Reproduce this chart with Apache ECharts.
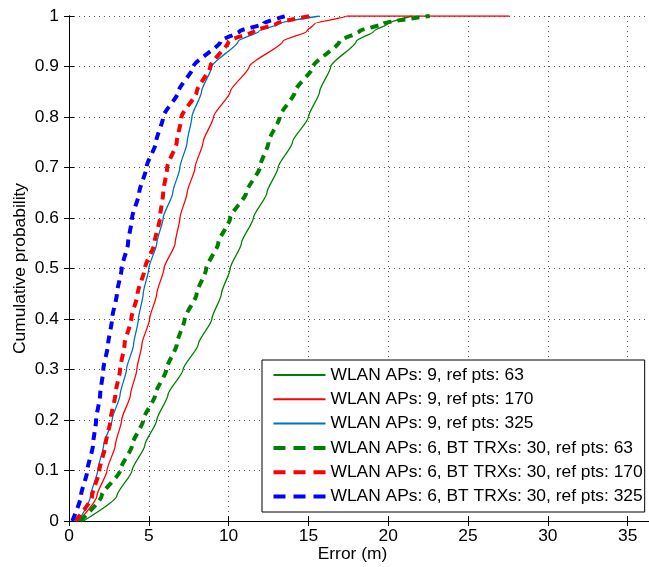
<!DOCTYPE html>
<html>
<head>
<meta charset="utf-8">
<script src="https://cdn.jsdelivr.net/npm/echarts@6/dist/echarts.min.js"></script>
<style>html,body{margin:0;padding:0;background:#fff;}#c{width:649px;height:567px;}</style>
</head>
<body>
<div id="c"></div>
<script>
// Cumulative probability levels (y values) shared by all curves
const probLevels = [0, 0.05, 0.1, 0.15, 0.2, 0.25, 0.3, 0.35, 0.4, 0.45, 0.5, 0.55, 0.6, 0.65, 0.7, 0.75, 0.8, 0.85, 0.9, 0.95, 0.97, 0.985, 1];

// Error (m) at each probability level
const wlan9ref63  = [0.9, 3.0, 3.95, 4.75, 5.5, 6.2, 7.15, 8.1, 8.95, 9.55, 10.1, 10.8, 11.55, 12.4, 13.1, 14.0, 15.0, 15.7, 16.4, 18.0, 19.1, 20.0, 21.5];
const wlan9ref170 = [0.6, 1.75, 2.38, 2.9, 3.3, 3.85, 4.25, 4.57, 5.05, 5.5, 5.95, 6.65, 6.95, 7.4, 7.9, 8.4, 9.05, 10.1, 11.3, 13.4, 14.9, 15.4, 17.4];
const wlan9ref170TailX = 27.6;
const wlan9ref325 = [0.6, 1.35, 1.8, 2.17, 2.7, 3.2, 3.6, 4.05, 4.35, 4.65, 5.0, 5.5, 5.9, 6.5, 6.95, 7.4, 7.7, 8.3, 8.95, 10.6, 11.9, 13.2, 15.7];
const bt30ref63   = [0.7, 2.05, 3.2, 3.95, 4.65, 5.4, 6.1, 6.75, 7.25, 8.0, 8.6, 9.35, 10.1, 11.1, 11.95, 12.5, 13.2, 14.15, 15.3, 16.95, 18.2, 19.7, 22.6];
const bt30ref170  = [0.4, 1.45, 1.9, 2.28, 2.6, 2.9, 3.2, 3.48, 3.9, 4.3, 4.75, 5.35, 5.7, 5.9, 6.15, 6.75, 7.05, 8.0, 8.85, 10.0, 11.6, 13.0, 15.1];
const bt30ref325  = [0.2, 0.75, 1.15, 1.5, 1.7, 1.95, 2.15, 2.45, 2.7, 3.0, 3.3, 3.7, 3.95, 4.4, 4.85, 5.45, 5.9, 6.85, 7.8, 9.5, 10.7, 12.2, 13.6];

const seriesNames = [
  'WLAN APs: 9, ref pts: 63',
  'WLAN APs: 9, ref pts: 170',
  'WLAN APs: 9, ref pts: 325',
  'WLAN APs: 6, BT TRXs: 30, ref pts: 63',
  'WLAN APs: 6, BT TRXs: 30, ref pts: 170',
  'WLAN APs: 6, BT TRXs: 30, ref pts: 325'
];

function pairs(xs) { return xs.map((x, i) => [x, probLevels[i]]); }

const FONT = 'Liberation Sans, Arial, Helvetica, sans-serif';
const FS = 17.4;
const chart = echarts.init(document.getElementById('c'), null, {renderer: 'canvas'});

function solid(name, xs, color) {
  return {name, type: 'line', data: xs, showSymbol: false, symbol: 'none', animation: false,
    smooth: 0.2, smoothMonotone: 'y',
    lineStyle: {color, width: 1.3, type: 'solid'}, itemStyle: {color}};
}
function dashed(name, xs, color) {
  return {name, type: 'line', data: xs, showSymbol: false, symbol: 'none', animation: false,
    smooth: 0.2, smoothMonotone: 'y',
    lineStyle: {color, width: 4, type: [8, 6]}, itemStyle: {color}};
}

const r170 = pairs(wlan9ref170); r170.push([wlan9ref170TailX, 1]);

const legendData = seriesNames.map((n, i) => i < 3 ? {name: n} : {name: n, lineStyle: {width: 4, type: [12, 8]}});

chart.setOption({
  backgroundColor: '#fff',
  animation: false,
  textStyle: {fontFamily: FONT},
  grid: {left: 69, right: -1, top: 16, bottom: 46, show: false, containLabel: false, outerBoundsMode: 'none'},
  xAxis: [{
    type: 'value', min: 0, max: 36.4, interval: 5,
    name: 'Error (m)', nameLocation: 'middle', nameGap: 25, nameMoveOverlap: false,
    nameTextStyle: {color: '#000', fontSize: FS, fontFamily: FONT, padding: [0, 14, 0, 0]},
    axisLine: {show: true, onZero: false, lineStyle: {color: '#000', width: 1}},
    axisTick: {show: true, inside: true, length: 5, lineStyle: {color: '#000'}},
    axisLabel: {color: '#000', fontSize: FS, fontFamily: FONT, margin: 7, showMaxLabel: false},
    splitLine: {show: true, lineStyle: {color: '#555', width: 1, type: [1, 4]}}
  }, {
    type: 'value', min: 0, max: 36.4, interval: 5, position: 'top',
    axisLine: {show: true, lineStyle: {color: '#000', width: 1}},
    axisTick: {show: true, inside: true, length: 5, lineStyle: {color: '#000'}},
    axisLabel: {show: false}, splitLine: {show: false}
  }],
  yAxis: [{
    type: 'value', min: 0, max: 1, interval: 0.1,
    name: 'Cumulative probability', nameLocation: 'middle', nameGap: 40, nameRotate: 90, nameMoveOverlap: false,
    nameTextStyle: {color: '#000', fontSize: FS, fontFamily: FONT},
    axisLine: {show: true, onZero: false, lineStyle: {color: '#000', width: 1}},
    axisTick: {show: true, inside: true, length: 5, lineStyle: {color: '#000'}},
    axisLabel: {color: '#000', fontSize: FS, fontFamily: FONT, margin: 10,
      formatter: v => (Math.abs(v) < 1e-9 ? '0' : (Math.abs(v - 1) < 1e-9 ? '1' : String(+v.toFixed(1))))},
    splitLine: {show: true, lineStyle: {color: '#555', width: 1, type: [1, 4]}}
  }, {
    type: 'value', min: 0, max: 1, interval: 0.1, position: 'right',
    axisLine: {show: true, lineStyle: {color: '#000', width: 1}},
    axisTick: {show: true, inside: true, length: 5, lineStyle: {color: '#000'}},
    axisLabel: {show: false}, splitLine: {show: false}
  }],
  legend: {
    orient: 'vertical', left: 262, top: 360,
    backgroundColor: '#fff', borderColor: '#000', borderWidth: 1,
    padding: [6.5, 2, 7, 9.5], itemGap: 7.3, itemWidth: 52, itemHeight: 17,
    itemStyle: {opacity: 0, borderWidth: 0},
    textStyle: {color: '#000', fontSize: FS, fontFamily: FONT, lineHeight: 17},
    data: legendData
  },
  series: [
    solid(seriesNames[0], pairs(wlan9ref63), '#008000'),
    solid(seriesNames[1], r170, '#ff0000'),
    solid(seriesNames[2], pairs(wlan9ref325), '#0072bd'),
    dashed(seriesNames[3], pairs(bt30ref63), '#008000'),
    dashed(seriesNames[4], pairs(bt30ref170), '#ff0000'),
    dashed(seriesNames[5], pairs(bt30ref325), '#0000ff')
  ]
});
</script>
</body>
</html>
